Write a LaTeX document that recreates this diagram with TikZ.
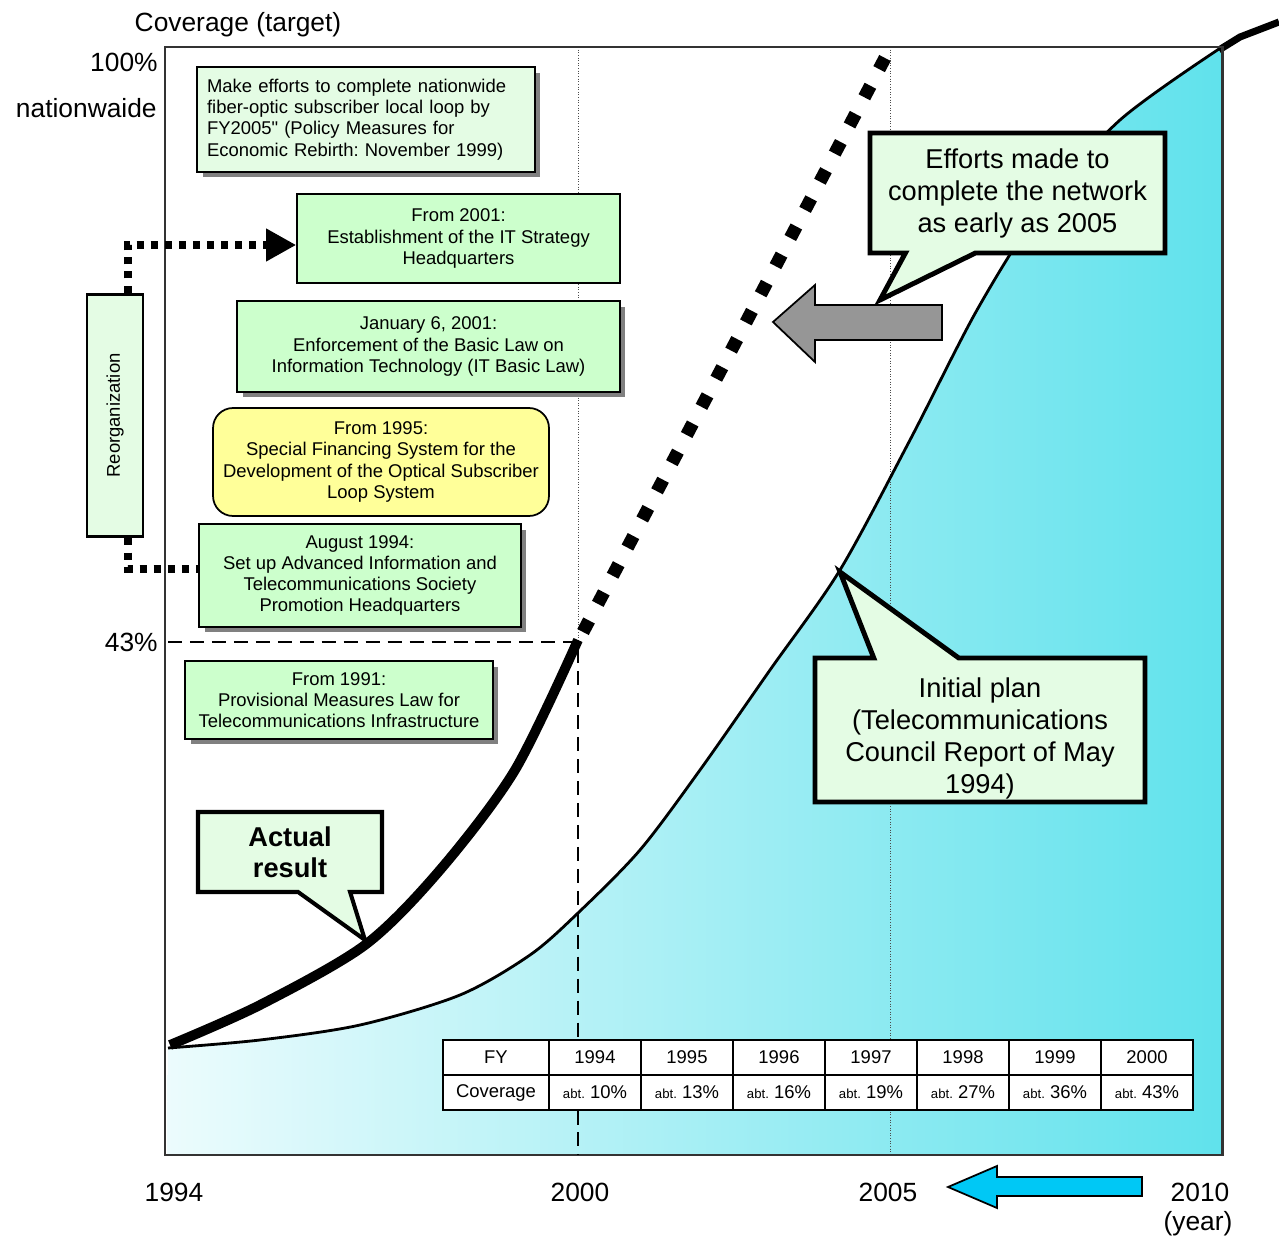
\documentclass[tikz,border=0pt]{standalone}
\usepackage{fontspec}
\setmainfont{Liberation Sans}
\newfontfamily\plainquote{Liberation Sans}[Ligatures=TeXOff]
\usepackage{graphicx}
\usetikzlibrary{arrows.meta,shapes.callouts,shadows}
\definecolor{boxgreen}{RGB}{204,255,204}
\definecolor{palegreen}{RGB}{228,252,228}
\definecolor{boxyellow}{RGB}{255,255,153}
\definecolor{plancyan}{RGB}{96,226,236}
\definecolor{arrowblue}{RGB}{0,200,245}
\definecolor{arrowgray}{RGB}{150,150,150}
\frenchspacing
\begin{document}
\begin{tikzpicture}[x=0.02cm,y=-0.02cm]
    % Definizione stili
    \tikzstyle{infobox}=[draw, line width=1pt, fill=boxgreen, align=center, inner sep=0pt, font=\fontsize{10.5}{12.1}\selectfont]
    \tikzstyle{shadowed}=[drop shadow={shadow xshift=0.11cm, shadow yshift=-0.11cm, fill=black!50, opacity=1}]
    \tikzstyle{callbox}=[rectangle callout, draw, line width=2.8pt, fill=palegreen, align=center, inner sep=0pt, font=\fontsize{15.5}{18.2}\selectfont]
    \tikzstyle{axislabel}=[inner sep=0pt, font=\fontsize{15}{18}\selectfont]
    \tikzstyle{tabcell}=[draw, line width=0.8pt, fill=white, minimum width=1.84cm, minimum height=0.7cm, inner sep=0pt, font=\fontsize{10.5}{12}\selectfont]
    \tikzstyle{plancurve}=[line width=1.6pt]
    \tikzstyle{actualcurve}=[line width=5.6pt, line cap=butt]
    \tikzstyle{plannedline}=[line width=7.4pt, dash pattern=on 7.4pt off 10.7pt]
    \tikzstyle{reorgline}=[line width=4pt, dash pattern=on 4pt off 4pt, -{Triangle[length=0.6cm, width=0.62cm]}]
    \tikzstyle{guide}=[densely dotted, line width=0.5pt, black!70]
    \tikzstyle{cutline}=[line width=1.4pt, dash pattern=on 8pt off 4.5pt]
    \tikzstyle{bigarrow}=[draw, line width=1pt]

    \useasboundingbox (0,0) rectangle (1279,1240);
    \fill[white] (0,0) rectangle (1279,1240);

    % Piano iniziale (area azzurra)
    \shade[left color=plancyan!12, right color=plancyan] plot[smooth] coordinates {(168,1048) (260,1040) (360,1025) (460,995) (530,955) (578,913) (640,850) (700,770) (770,670) (840,570) (910,440) (977,310) (1040,210) (1120,120) (1222,47)} -- (1222,1155) -- (167,1155) -- cycle;
    \draw[guide] (578,47) -- (578,642);
    \draw[guide] (890,47) -- (890,1155);
    \draw[plancurve] plot[smooth] coordinates {(168,1048) (260,1040) (360,1025) (460,995) (530,955) (578,913) (640,850) (700,770) (770,670) (840,570) (910,440) (977,310) (1040,210) (1120,120) (1222,47)};
    \draw[line width=4pt] (1219,50) -- (1240,37) -- (1279,22);

    % Riquadro
    \draw[line width=1.7pt, black!80] (165,47) rectangle (1222,1155);

    % Risultato effettivo
    \draw[actualcurve] plot[smooth] coordinates {(170,1045) (260,1005) (365,945) (440,870) (515,770) (578,640)};
    \draw[plannedline] (583,632) -- (885,58);
    \draw[cutline] (168,642) -- (578,642) -- (578,1155);

    % Tabella
    \node[tabcell, minimum width=2.12cm] (fyhead) at (496,1057.5) {FY};
    \node[tabcell, minimum width=2.12cm] (covhead) at (496,1092.5) {Coverage};
    \foreach \yr/\val [count=\i from 0] in {1994/10,1995/13,1996/16,1997/19,1998/27,1999/36,2000/43} {
        \node[tabcell] (y\yr) at (595+92*\i,1057.5) {\yr};
        \node[tabcell] (c\yr) at (595+92*\i,1092.5) {{\fontsize{7.5}{9}\selectfont abt.} \val\%};
    }

    % Etichette degli assi
    \node[axislabel] (covtitle) at (238,25) {Coverage (target)};
    \node[axislabel, anchor=east] (full) at (158,62) {100\%};
    \node[axislabel, anchor=east] (nation) at (157,108) {nationwaide};
    \node[axislabel, anchor=east] (fortythree) at (158,642) {43\%};
    \node[axislabel] (yr94) at (174,1192) {1994};
    \node[axislabel] (yr00) at (580,1192) {2000};
    \node[axislabel] (yr05) at (888,1192) {2005};
    \node[axislabel] (yr10) at (1200,1192) {2010};
    \node[axislabel] (yearunit) at (1198,1224) {(year)};

    % Misure
    \node[infobox, shadowed, fill=palegreen, align=left, minimum width=6.76cm, minimum height=2.1cm, text width=6.36cm] (policy) at (366,119.5) {Make efforts to complete nationwide\\fiber-optic subscriber local loop by\\FY2005{\plainquote"} (Policy Measures for\\Economic Rebirth: November 1999)};
    \node[infobox, minimum width=6.46cm, minimum height=1.78cm] (hq2001) at (458.5,238.5) {From 2001:\\Establishment of the IT Strategy\\Headquarters};
    \node[infobox, shadowed, minimum width=7.66cm, minimum height=1.82cm] (itlaw) at (428.5,346.5) {January 6, 2001:\\Enforcement of the Basic Law on\\Information Technology (IT Basic Law)};
    \node[infobox, fill=boxyellow, rounded corners=0.4cm, minimum width=6.72cm, minimum height=2.16cm] (finance) at (381,462) {From 1995:\\Special Financing System for the\\Development of the Optical Subscriber\\Loop System};
    \node[infobox, shadowed, minimum width=6.44cm, minimum height=2.06cm] (aug1994) at (360,575.5) {August 1994:\\Set up Advanced Information and\\Telecommunications Society\\Promotion Headquarters};
    \node[infobox, shadowed, minimum width=6.16cm, minimum height=1.56cm] (infra1991) at (339,700) {From 1991:\\Provisional Measures Law for\\Telecommunications Infrastructure};

    % Riorganizzazione
    \node[infobox, fill=palegreen, line width=1.7pt, minimum width=1.12cm, minimum height=4.86cm] (reorg) at (115,415.5) {\rotatebox{90}{Reorganization}};
    \draw[reorgline] ([xshift=0.26cm]reorg.north) |- ([yshift=-0.13cm]hq2001.west);
    \draw[reorgline, -] ([xshift=0.26cm]reorg.south) |- ([yshift=0.13cm]aug1994.west);

    % Fumetti
    \node[callbox, minimum width=5.9cm, minimum height=2.4cm, callout absolute pointer={(880,300)}, callout pointer width=1.4cm] (efforts) at (1017.5,193) {Efforts made to\\complete the network\\as early as 2005};
    \node[callbox, minimum width=6.6cm, minimum height=2.88cm, callout absolute pointer={(840,572)}, callout pointer width=1.7cm] (initial) at (980,730) {\rule{0pt}{0.72cm}Initial plan\\(Telecommunications\\Council Report of May\\1994)};
    \node[callbox, line width=2.3pt, font=\bfseries\fontsize{15.5}{17.6}\selectfont, minimum width=3.68cm, minimum height=1.6cm, callout absolute pointer={(365,940)}, callout pointer width=1.04cm] (actual) at (290,852) {Actual\\result};

    % Frecce
    \path[bigarrow, fill=arrowgray] (773,322) -- (815,285) -- (815,305) -- (942,305) -- (942,340) -- (815,340) -- (815,362) -- cycle;
    \path[bigarrow, fill=arrowblue] (948,1187) -- (997,1166) -- (997,1177) -- (1142,1177) -- (1142,1196) -- (997,1196) -- (997,1208) -- cycle;
\end{tikzpicture}
\end{document}
